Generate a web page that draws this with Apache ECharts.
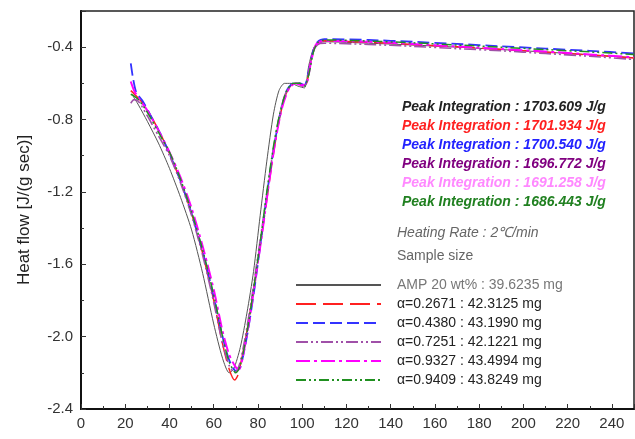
<!DOCTYPE html>
<html><head><meta charset="utf-8">
<script src="https://cdn.jsdelivr.net/npm/echarts@6/dist/echarts.min.js"></script>
<style>html,body{margin:0;padding:0;background:#fff}#c{width:635px;height:439px}</style>
</head><body><div id="c"></div>
<script>
const seriesNames = [
  "AMP 20 wt% : 39.6235 mg",
  "α=0.2671 : 42.3125 mg",
  "α=0.4380 : 43.1990 mg",
  "α=0.7251 : 42.1221 mg",
  "α=0.9327 : 43.4994 mg",
  "α=0.9409 : 43.8249 mg"
];
const peakLabels = [
  "Peak Integration : 1703.609 J/g",
  "Peak Integration : 1701.934 J/g",
  "Peak Integration : 1700.540 J/g",
  "Peak Integration : 1696.772 J/g",
  "Peak Integration : 1691.258 J/g",
  "Peak Integration : 1686.443 J/g"
];
const heatingRateLabel = "Heating Rate : 2℃/min";
const sampleSizeLabel = "Sample size";
const yTicks = [-2.4, -2.0, -1.6, -1.2, -0.8, -0.4];
const xTicks = [0, 20, 40, 60, 80, 100, 120, 140, 160, 180, 200, 220, 240];

const ampData = [[23.5,-0.67],[26,-0.72],[30,-0.81],[35,-0.93],[40,-1.07],[45,-1.23],[50,-1.41],[55,-1.65],[60,-1.93],[64,-2.12],[67,-2.2],[69,-2.18],[72,-2.06],[75,-1.87],[78,-1.64],[81,-1.33],[84,-1.03],[87,-0.77],[89.5,-0.64],[92,-0.6],[95,-0.6],[98,-0.615],[101,-0.625],[103,-0.5],[105,-0.41],[107,-0.38],[110,-0.37],[130,-0.378],[150,-0.388],[170,-0.4],[190,-0.413],[210,-0.427],[230,-0.442],[250,-0.458]];
const a2671Data = [[22.5,-0.64],[25,-0.67],[28,-0.71],[32,-0.79],[36,-0.88],[40,-0.99],[45,-1.14],[50,-1.32],[55,-1.54],[60,-1.8],[64,-2.04],[67,-2.18],[69.5,-2.24],[71,-2.21],[74,-2.04],[77,-1.82],[80,-1.58],[83,-1.33],[86,-1.07],[89,-0.84],[92,-0.68],[95,-0.61],[98,-0.595],[100,-0.61],[102,-0.6],[104,-0.47],[106,-0.39],[108,-0.37],[110,-0.365],[130,-0.373],[150,-0.385],[170,-0.398],[190,-0.412],[210,-0.427],[230,-0.443],[250,-0.46]];
const a4380Data = [[22.5,-0.49],[23.5,-0.57],[25,-0.65],[28,-0.7],[32,-0.79],[36,-0.88],[40,-0.99],[45,-1.14],[50,-1.32],[55,-1.53],[60,-1.78],[64,-2.0],[67,-2.13],[70,-2.19],[72,-2.17],[75,-2.0],[78,-1.77],[81,-1.5],[84,-1.22],[87,-0.97],[90,-0.77],[93,-0.64],[96,-0.6],[99,-0.6],[101,-0.61],[103,-0.53],[105,-0.42],[107,-0.37],[110,-0.355],[130,-0.36],[150,-0.37],[170,-0.382],[190,-0.395],[210,-0.408],[230,-0.42],[250,-0.435]];
const a7251Data = [[22.5,-0.71],[24,-0.69],[26,-0.7],[30,-0.78],[35,-0.89],[40,-1.0],[45,-1.15],[50,-1.33],[55,-1.55],[60,-1.81],[64,-2.04],[67,-2.16],[69.5,-2.2],[71.5,-2.16],[74,-2.02],[77,-1.8],[80,-1.55],[83,-1.3],[86,-1.04],[89,-0.82],[92,-0.67],[95,-0.61],[98,-0.6],[100,-0.615],[102,-0.6],[104,-0.47],[106,-0.4],[108,-0.38],[110,-0.378],[130,-0.385],[150,-0.395],[170,-0.408],[190,-0.42],[210,-0.435],[230,-0.45],[250,-0.468]];
const a9327Data = [[22.5,-0.59],[24,-0.64],[26,-0.68],[30,-0.75],[35,-0.86],[40,-0.98],[45,-1.12],[50,-1.29],[55,-1.5],[60,-1.74],[64,-1.97],[67,-2.1],[70,-2.17],[71.5,-2.18],[73,-2.12],[76,-1.92],[79,-1.67],[82,-1.42],[85,-1.15],[88,-0.91],[91,-0.73],[94,-0.63],[97,-0.6],[100,-0.61],[102,-0.6],[104,-0.48],[106,-0.39],[108,-0.37],[110,-0.365],[130,-0.37],[150,-0.382],[170,-0.396],[190,-0.41],[210,-0.424],[230,-0.44],[250,-0.456]];
const a9409Data = [[22.5,-0.66],[24,-0.67],[26,-0.69],[30,-0.76],[35,-0.87],[40,-0.98],[45,-1.13],[50,-1.31],[55,-1.52],[60,-1.77],[64,-2.0],[67,-2.14],[70,-2.2],[72,-2.16],[75,-1.98],[78,-1.74],[81,-1.48],[84,-1.2],[87,-0.95],[90,-0.76],[93,-0.64],[96,-0.6],[99,-0.6],[101,-0.615],[103,-0.55],[105,-0.43],[107,-0.375],[110,-0.36],[130,-0.366],[150,-0.376],[170,-0.388],[190,-0.4],[210,-0.413],[230,-0.426],[250,-0.44]];

const allData = [ampData, a2671Data, a4380Data, a7251Data, a9327Data, a9409Data];
const lineColors = ['#555555', '#ff2020', '#3333ff', '#a050a8', '#ff00ff', '#209020'];
const peakColors = ['#222222', '#ff2020', '#2222ff', '#800080', '#ff88ff', '#208020'];
const dashes = ['solid', [20, 7], [12, 5], [12, 3, 2, 3, 2, 3], [14, 4, 3, 4], [10, 3, 2, 3, 2, 3]];
const widths = [1, 1.5, 1.8, 1.6, 2, 1.5];

const chart = echarts.init(document.getElementById('c'), null, {renderer: 'canvas'});
const FONT = '"Liberation Sans", Arial, sans-serif';

const series = allData.map((d, i) => ({
  name: seriesNames[i],
  type: 'line',
  data: d,
  symbol: 'none',
  showSymbol: false,
  smooth: 0.25,
  z: i === 0 ? 2 : 3,
  lineStyle: {color: lineColors[i], width: widths[i], type: dashes[i]},
  itemStyle: {color: lineColors[i]}
}));

const graphics = [];
peakLabels.forEach((t, i) => {
  graphics.push({type: 'text', left: 402, top: 100 + i * 19, style: {text: t, fill: peakColors[i], font: 'italic bold 14px ' + FONT}});
});
graphics.push({type: 'text', left: 397, top: 226, style: {text: heatingRateLabel, fill: '#666', font: 'italic 14px ' + FONT}});
graphics.push({type: 'text', left: 397, top: 249, style: {text: sampleSizeLabel, fill: '#666', font: '14px ' + FONT}});

chart.setOption({
  animation: false,
  backgroundColor: '#fff',
  grid: {left: 81, top: 11, right: 1, bottom: 30, show: true, borderColor: '#222', borderWidth: 1.5, containLabel: false},
  xAxis: {
    type: 'value', min: 0, max: 250, interval: 20,
    axisLine: {show: true, lineStyle: {color: '#111', width: 2}},
    axisTick: {show: true, inside: true, length: 5, lineStyle: {color: '#333'}},
    minorTick: {show: true, splitNumber: 2, length: 3, lineStyle: {color: '#333'}},
    splitLine: {show: false},
    axisLabel: {color: '#333', fontSize: 15, fontFamily: FONT, margin: 7, showMaxLabel: false,
      formatter: v => xTicks.includes(v) ? String(v) : ''}
  },
  yAxis: {
    type: 'value', min: -2.4, max: -0.2, interval: 0.4,
    name: 'Heat flow [J/(g sec)]', nameLocation: 'middle', nameGap: 48,
    nameTextStyle: {color: '#222', fontSize: 17, fontFamily: FONT},
    axisLine: {show: true, lineStyle: {color: '#111', width: 2}},
    axisTick: {show: true, inside: true, length: 5, lineStyle: {color: '#333'}},
    minorTick: {show: true, splitNumber: 2, length: 3, lineStyle: {color: '#333'}},
    splitLine: {show: false},
    axisLabel: {color: '#333', fontSize: 15, fontFamily: FONT, margin: 8, showMaxLabel: false,
      formatter: v => { const m = yTicks.find(t => Math.abs(t - v) < 1e-6); return m === undefined ? '' : m.toFixed(1); }}
  },
  legend: {
    show: true, orient: 'vertical', left: 290, top: 273,
    itemWidth: 85, itemHeight: 14, itemGap: 5,
    itemStyle: {opacity: 0},
    data: seriesNames.map((n, i) => ({name: n, textStyle: {color: i === 0 ? '#777' : '#222'}})),
    textStyle: {fontSize: 14, fontFamily: FONT, padding: [0, 0, 0, 11]},
    selectedMode: false
  },
  graphic: graphics,
  series: series
});
</script></body></html>
